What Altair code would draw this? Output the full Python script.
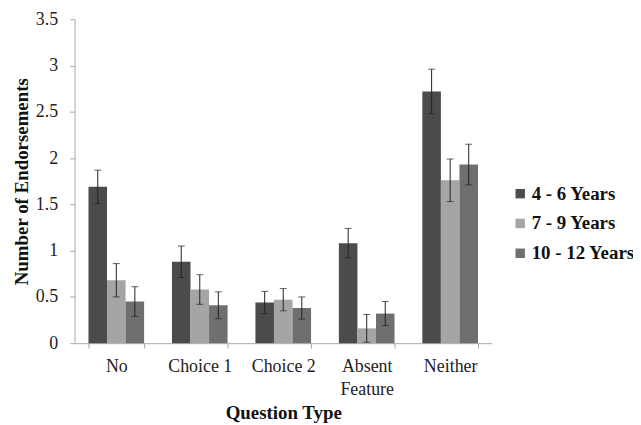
import altair as alt
import pandas as pd

categories = ["No", "Choice 1", "Choice 2", "Absent Feature", "Neither"]
groups = ["4 - 6 Years", "7 - 9 Years", "10 - 12 Years"]
means_4_6 = [1.69, 0.88, 0.44, 1.08, 2.72]
means_7_9 = [0.68, 0.58, 0.47, 0.16, 1.76]
means_10_12 = [0.45, 0.41, 0.38, 0.32, 1.93]
err_4_6 = [0.18, 0.17, 0.12, 0.16, 0.24]
err_7_9 = [0.18, 0.16, 0.12, 0.15, 0.23]
err_10_12 = [0.16, 0.145, 0.12, 0.13, 0.22]
colors = ["#4b4b4b", "#a5a5a5", "#6f6f6f"]
y_ticks = [0, 0.5, 1, 1.5, 2, 2.5, 3, 3.5]

rows = []
for g, ms, es in zip(groups, [means_4_6, means_7_9, means_10_12], [err_4_6, err_7_9, err_10_12]):
    for c, m, e in zip(categories, ms, es):
        rows.append({"cat": c, "group": g, "value": m, "lo": m - e, "hi": m + e})
df = pd.DataFrame(rows)

FONT = "'Liberation Serif', 'Times New Roman', Times, serif"

x = alt.X("cat:N", sort=categories,
          scale=alt.Scale(paddingInner=1/3, paddingOuter=1/6),
          axis=alt.Axis(title="Question Type", labelAngle=0, tickBand="extent",
                        labelExpr="datum.label == 'Absent Feature' ? ['Absent', 'Feature'] : datum.label",
                        labelLineHeight=23, labelPadding=10, labelBaseline="top",
                        titlePadding=5))
xo = alt.XOffset("group:N", sort=groups, scale=alt.Scale(paddingInner=0, paddingOuter=0))

bars = alt.Chart(df).mark_bar().encode(
    x=x, xOffset=xo,
    y=alt.Y("value:Q", scale=alt.Scale(domain=[0, 3.5], nice=False),
            axis=alt.Axis(title="Number of Endorsements", values=y_ticks, format="~f",
                          labelPadding=12, titlePadding=4)),
    color=alt.Color("group:N", sort=groups, scale=alt.Scale(domain=groups, range=colors),
                    legend=alt.Legend(title=None, orient="none", legendX=439, legendY=166,
                                      symbolType="square", symbolSize=90, symbolStrokeWidth=0,
                                      labelFont=FONT, labelFontSize=19, labelFontWeight="bold",
                                      labelColor="#111", rowPadding=10, labelOffset=2,
                                      padding=0, labelLimit=200)),
)

rules = alt.Chart(df).mark_rule(color="#222", strokeWidth=1).encode(
    x=alt.X("cat:N", sort=categories), xOffset=xo,
    y="lo:Q", y2="hi:Q")

caps_lo = alt.Chart(df).mark_tick(color="#222", size=7, thickness=1).encode(
    x=alt.X("cat:N", sort=categories), xOffset=xo, y="lo:Q")
caps_hi = alt.Chart(df).mark_tick(color="#222", size=7, thickness=1).encode(
    x=alt.X("cat:N", sort=categories), xOffset=xo, y="hi:Q")

chart = alt.layer(bars, rules, caps_lo, caps_hi).properties(
    width=420, height=326,
    autosize=alt.AutoSizeParams(type="none"),
    padding={"left": 67, "top": 10, "right": 142, "bottom": 80},
).configure_view(stroke=None).configure_axis(
    labelFont=FONT, labelFontSize=18, labelColor="#222",
    titleFont=FONT, titleFontSize=19, titleFontWeight="bold", titleColor="#111",
    domainColor="#a8a8a8", tickColor="#a8a8a8", tickSize=5, grid=False,
).configure_axisY(labelPadding=12)

chart.save("out.html", embed_options={"renderer": "svg", "actions": False})
